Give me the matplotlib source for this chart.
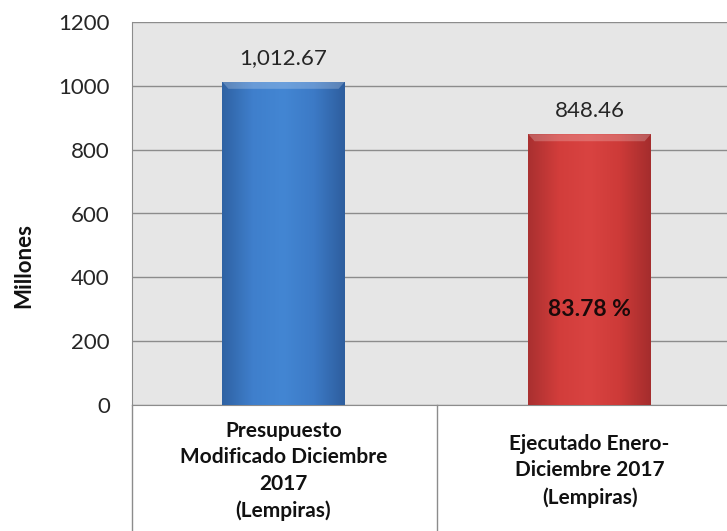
import numpy as np
import matplotlib
matplotlib.use('Agg')
import matplotlib.pyplot as plt
import matplotlib.transforms as mtransforms
from matplotlib.colors import LinearSegmentedColormap

plt.rcParams['font.family'] = ['Lato', 'DejaVu Sans']

# data
categories = ['Presupuesto\nModificado Diciembre\n2017\n(Lempiras)',
              'Ejecutado Enero-\nDiciembre 2017\n(Lempiras)']
values = [1012.67, 848.46]
value_labels = ['1,012.67', '848.46']
pct_label = '83.78 %'
yticks = [0, 200, 400, 600, 800, 1000, 1200]

bar_cmaps = [
    LinearSegmentedColormap.from_list('b', ['#2f62a3', '#3f7fcc', '#4386d3', '#3c7ac6', '#2e5e9e']),
    LinearSegmentedColormap.from_list('r', ['#a93030', '#d23d3b', '#d94341', '#cd3a38', '#a42d2d']),
]

fig = plt.figure(figsize=(7.27, 5.31), dpi=100)
ax = fig.add_axes([132 / 727, 126 / 531, 595 / 727, 383 / 531])
ax.set_facecolor('#e6e6e6')

x = np.arange(len(values))
bars = ax.bar(x, values, width=0.40, color='none', edgecolor='none', zorder=3)

# horizontal gradient inside each bar
grad = np.linspace(0, 1, 256).reshape(1, -1)
for b, cm in zip(bars, bar_cmaps):
    x0, w, h = b.get_x(), b.get_width(), b.get_height()
    im = ax.imshow(grad, cmap=cm, aspect='auto', extent=[x0, x0 + w, 0, h],
                   zorder=3, interpolation='bilinear')
    im.set_clip_path(b)
    # lighter bevel at top
    ax.fill([x0, x0 + w, x0 + w - 0.02, x0 + 0.02], [h, h, h - 22, h - 22],
            color='white', alpha=0.22, zorder=4, linewidth=0)

ax.set_xlim(-0.495, 1.449)
ax.set_ylim(0, 1200)
ax.set_yticks(yticks)
ax.tick_params(axis='y', length=0, pad=16, labelsize=16, labelcolor='#262626')
ax.yaxis.grid(True, color='#8c8c8c', linewidth=1.0, zorder=1)
ax.set_axisbelow(True)
ax.set_xticks([])

for s in ['top', 'right']:
    ax.spines[s].set_visible(False)
ax.spines['left'].set_color('#8c8c8c')
ax.spines['bottom'].set_color('#8c8c8c')

fig.text(24 / 727, 1 - 266 / 531, 'Millones', rotation=90, ha='center', va='center',
         fontsize=16, fontweight='bold', color='#111111')

# value labels
for xi, v, lab in zip(x, values, value_labels):
    ax.annotate(lab, (xi, v), xytext=(0, 17), textcoords='offset points',
                ha='center', va='center', fontsize=16, color='#262626')

ax.text(x[1], 298, pct_label, ha='center', va='center', fontsize=16.5,
        fontweight='bold', color='#1a0a0a', zorder=5)

# category labels below the plot area
trans = mtransforms.blended_transform_factory(ax.transData, ax.transAxes)
for xi, cat in zip(x, categories):
    ax.text(xi, -0.172, cat, transform=trans, ha='center', va='center',
            fontsize=15, fontweight='bold', linespacing=1.4, color='#111111')

# divider lines in the category area
for xd in [-0.495, 0.5]:
    ax.plot([xd, xd], [0, -0.34], transform=trans, color='#8c8c8c',
            linewidth=1.0, clip_on=False)

fig.savefig('out.png', dpi=100)
